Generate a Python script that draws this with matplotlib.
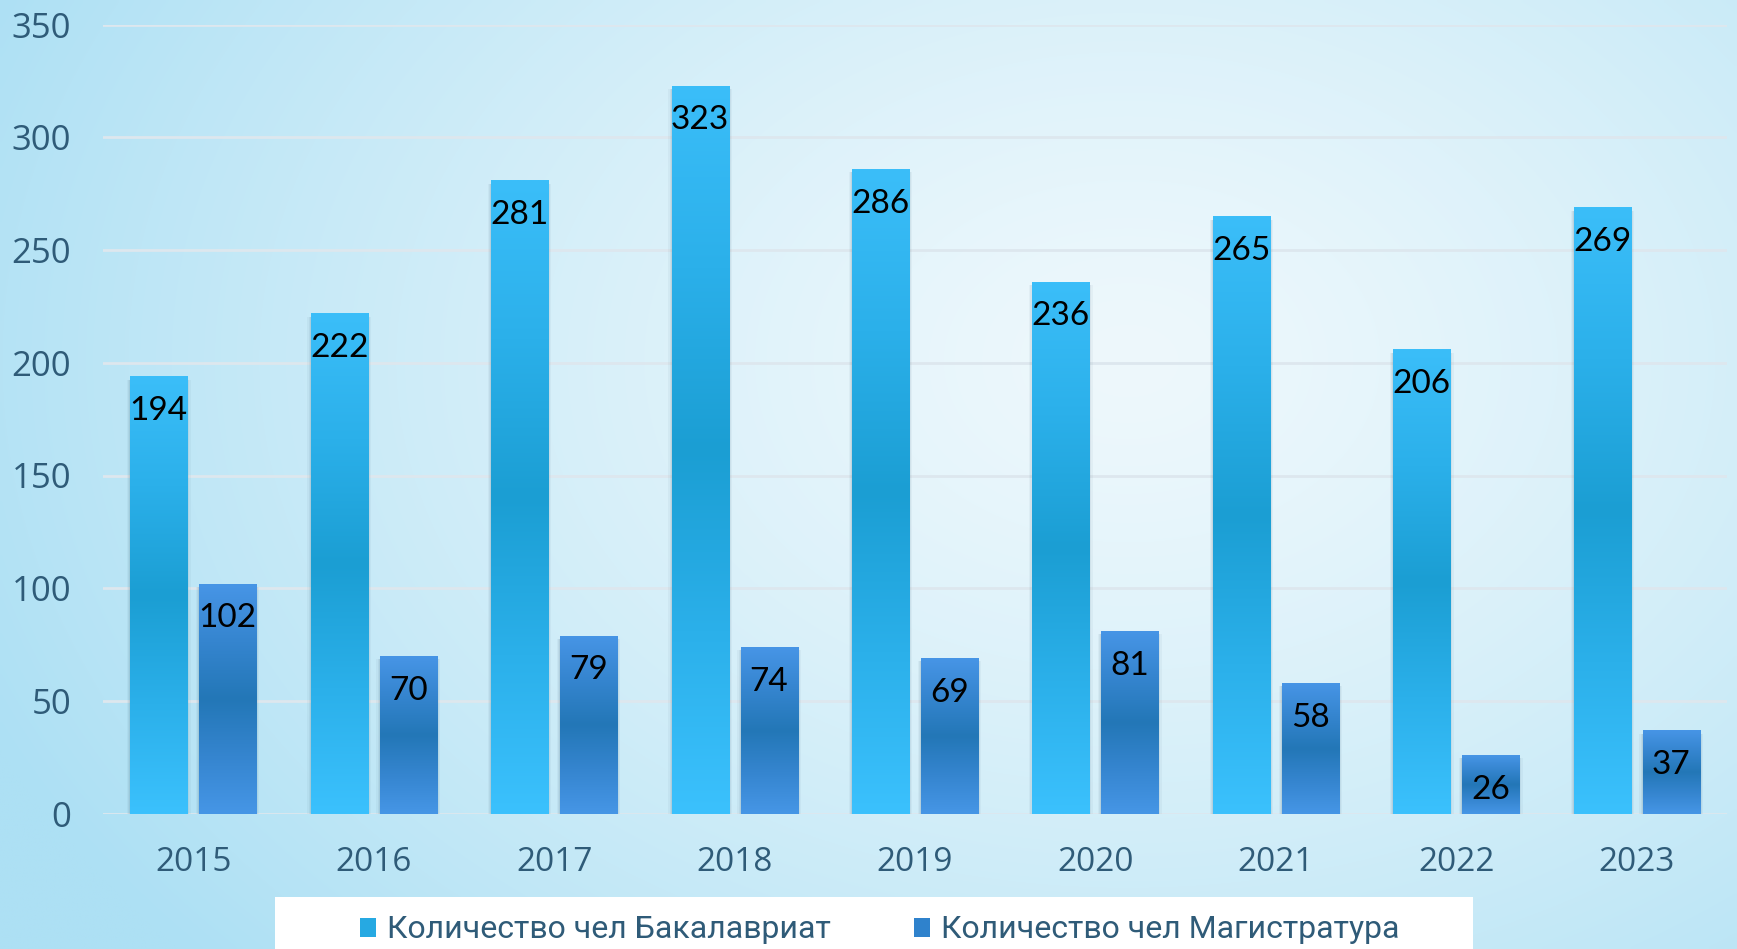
import numpy as np
import matplotlib
matplotlib.use("Agg")
import matplotlib.pyplot as plt
from matplotlib.colors import LinearSegmentedColormap, to_rgb
from matplotlib.patches import Rectangle, Patch

years = ['2015', '2016', '2017', '2018', '2019', '2020', '2021', '2022', '2023']
bachelor = [194, 222, 281, 323, 286, 236, 265, 206, 269]
master = [102, 70, 79, 74, 69, 81, 58, 26, 37]
series_names = ['Количество чел Бакалавриат', 'Количество чел Магистратура']
yticks = [0, 50, 100, 150, 200, 250, 300, 350]

W, H = 1737, 949
fig = plt.figure(figsize=(W / 100, H / 100), dpi=100)

# background radial gradient
bg = fig.add_axes([0, 0, 1, 1], zorder=0)
gx, gy = np.meshgrid(np.linspace(0, 1, 400), np.linspace(0, 1, 220))
r = np.sqrt(((gx - 0.65) / 0.72) ** 2 + ((gy - 0.62) / 0.95) ** 2)
r = np.clip(r, 0, 1)
c_in = np.array(to_rgb('#eef8fc'))
c_out = np.array(to_rgb('#ade0f4'))
img = c_in[None, None, :] * (1 - r[..., None] ** 1.3) + c_out[None, None, :] * (r[..., None] ** 1.3)
bg.imshow(img, extent=[0, 1, 0, 1], aspect='auto', origin='lower', interpolation='bilinear')
bg.set_xlim(0, 1); bg.set_ylim(0, 1)
bg.axis('off')

ax = fig.add_axes([103 / W, 135.4 / H, (1727 - 103) / W, (924.3 - 135.4) / H], zorder=1)
ax.patch.set_alpha(0)

x = np.arange(len(years))
w = 0.316
off = 0.191

cm_b = LinearSegmentedColormap.from_list('b', ['#3bc1fd', '#2bb0ea', '#1b9ed3', '#2bb0ea', '#3bbef9'])
cm_m = LinearSegmentedColormap.from_list('m', ['#4696e6', '#3585cf', '#2377b7', '#3585cf', '#4795e6'])

b1 = ax.bar(x - off, bachelor, w, color='#26a9e2', label=series_names[0], zorder=3)
b2 = ax.bar(x + off, master, w, color='#2f82cc', label=series_names[1], zorder=3)

grad = np.linspace(0, 1, 256).reshape(-1, 1)
for bars, cm in ((b1, cm_b), (b2, cm_m)):
    for p in bars.patches:
        x0, y0 = p.get_x(), p.get_y()
        bw, bh = p.get_width(), p.get_height()
        # soft shadow
        for k, a in ((0.018, 0.05), (0.011, 0.07), (0.005, 0.09)):
            ax.add_patch(Rectangle((x0 - k, y0 - 1.5 - k * 60), bw + 2 * k, bh + k * 60,
                                   facecolor='#3d5f75', edgecolor='none', alpha=a, zorder=2))
        im = ax.imshow(grad, extent=[x0, x0 + bw, y0, y0 + bh], cmap=cm, aspect='auto',
                       origin='lower', zorder=4, interpolation='bilinear')
        im.set_clip_path(p)

for bars, vals in ((b1, bachelor), (b2, master)):
    for p, v in zip(bars.patches, vals):
        ax.annotate(str(v), (p.get_x() + p.get_width() / 2, p.get_height()),
                    xytext=(0, -25), textcoords='offset points', ha='center', va='center',
                    fontsize=24, color='black', family='Lato', zorder=6)

ax.set_xlim(-0.5, len(years) - 0.5)
ax.set_ylim(0, 350)
ax.set_yticks(yticks)
ax.set_xticks(x)
ax.set_xticklabels(years)
ax.yaxis.grid(True, color='#dde7ee', linewidth=2)
ax.set_axisbelow(True)
for s in ax.spines.values():
    s.set_visible(False)
ax.tick_params(axis='both', length=0, labelcolor='#2f5b78')
ax.tick_params(axis='y', pad=23, labelsize=25)
ax.tick_params(axis='x', pad=23, labelsize=24)
for t in ax.get_xticklabels() + ax.get_yticklabels():
    t.set_family('Open Sans')

# legend box
fig.patches.append(Rectangle((275 / W, 0), (1473 - 275) / W, (949 - 897) / H,
                             transform=fig.transFigure, facecolor='white', edgecolor='none', zorder=2))
handles = [Patch(facecolor='#26a9e2'), Patch(facecolor='#2f82cc')]
leg = fig.legend(handles, series_names, loc='center', bbox_to_anchor=(879.5 / W, 19 / H),
                 ncol=2, frameon=False, handlelength=0.5, handleheight=0.55,
                 handletextpad=0.35, columnspacing=2.6,
                 prop={'family': ['Roboto', 'DejaVu Sans'], 'size': 23})
for t in leg.get_texts():
    t.set_color('#2f5b78')
leg.set_zorder(3)

fig.savefig('out.png', dpi=100)
